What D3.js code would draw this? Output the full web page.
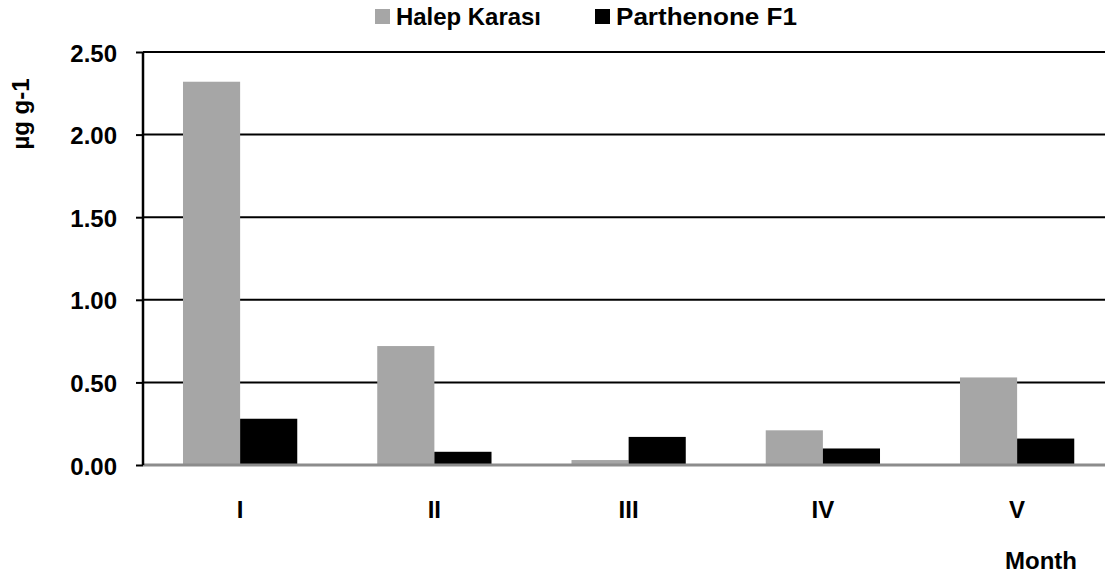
<!DOCTYPE html>
<html>
<head>
<meta charset="utf-8">
<script src="https://cdn.jsdelivr.net/npm/d3@7"></script>
<style>
  body { margin: 0; background: #fff; }
  svg { display: block; font-family: "Liberation Sans", Arial, sans-serif; font-weight: bold; }
</style>
</head>
<body>
<script>
// data
var months = ["I", "II", "III", "IV", "V"];
var seriesNames = ["Halep Karası", "Parthenone F1"];
var halep = [2.32, 0.72, 0.03, 0.21, 0.53];
var parthenone = [0.28, 0.08, 0.17, 0.10, 0.16];
var yTicks = [0, 0.5, 1, 1.5, 2, 2.5];

var colors = ["#a6a6a6", "#000000"];
var width = 1105, height = 573;
var plotLeft = 143, plotTop = 52, plotBottom = 465;
var step = 194.25;
var fs = 24;

var svg = d3.select("body")
    .append("svg")
    .attr("width", width)
    .attr("height", height);

// x scales: months, then series inside each month
var x = d3.scaleBand()
    .domain(months)
    .range([plotLeft, plotLeft + step * months.length])
    .padding(0);

var xSub = d3.scaleBand()
    .domain(seriesNames)
    .range([0, x.bandwidth()])
    .paddingInner(0)
    .paddingOuter(0.7);

var y = d3.scaleLinear()
    .domain([0, 2.5])
    .range([plotBottom, plotTop]);

// gridlines (skip zero, the axis line goes there)
svg.append("g")
    .selectAll("line")
    .data(yTicks.filter(function(d) { return d > 0; }))
    .enter()
    .append("line")
    .attr("x1", plotLeft)
    .attr("x2", width)
    .attr("y1", function(d) { return y(d); })
    .attr("y2", function(d) { return y(d); })
    .attr("stroke", "#000")
    .attr("stroke-width", 2);

// bars
var rows = months.map(function(m, i) {
    return [
        {month: m, name: seriesNames[0], value: halep[i], color: colors[0]},
        {month: m, name: seriesNames[1], value: parthenone[i], color: colors[1]}
    ];
});

var groups = svg.selectAll(".month")
    .data(rows)
    .enter()
    .append("g")
    .attr("class", "month")
    .attr("transform", function(d) {
        return "translate(" + x(d[0].month) + ",0)";
    });

groups.selectAll("rect")
    .data(function(d) { return d; })
    .enter()
    .append("rect")
    .attr("x", function(d) { return xSub(d.name); })
    .attr("width", xSub.bandwidth())
    .attr("y", function(d) { return y(d.value); })
    .attr("height", function(d) { return y(0) - y(d.value); })
    .attr("fill", function(d) { return d.color; });

// x axis line (grey)
svg.append("line")
    .attr("x1", plotLeft)
    .attr("x2", width)
    .attr("y1", y(0))
    .attr("y2", y(0))
    .attr("stroke", "#8c8c8c")
    .attr("stroke-width", 3);

// y axis
var yAxis = d3.axisLeft(y)
    .tickValues(yTicks)
    .tickFormat(d3.format(".2f"))
    .tickSize(7)
    .tickPadding(19);

var yg = svg.append("g")
    .attr("transform", "translate(" + plotLeft + ",0)")
    .call(yAxis);

yg.select(".domain")
    .attr("d", "M0," + y(2.5) + "V" + y(0))
    .attr("stroke", "#000")
    .attr("stroke-width", 2.5);
yg.selectAll(".tick line")
    .attr("stroke", "#000")
    .attr("stroke-width", 2);
yg.selectAll(".tick text")
    .attr("font-size", fs)
    .attr("font-family", "Liberation Sans, Arial, sans-serif")
    .attr("font-weight", "bold")
    .attr("fill", "#000")
    .attr("dy", "0.38em");

// x labels
svg.append("g")
    .selectAll("text")
    .data(months)
    .enter()
    .append("text")
    .attr("x", function(d) { return x(d) + x.bandwidth() / 2; })
    .attr("y", 518)
    .attr("text-anchor", "middle")
    .attr("font-size", fs)
    .text(function(d) { return d; });

// axis titles
svg.append("text")
    .attr("x", 1041)
    .attr("y", 569)
    .attr("text-anchor", "middle")
    .attr("font-size", fs)
    .text("Month");

svg.append("text")
    .attr("transform", "translate(29,114) rotate(-90)")
    .attr("text-anchor", "middle")
    .attr("font-size", fs)
    .text("µg g-1");

// legend
var legendX = [375, 595];
var legendLen = [145, 181];
var legend = svg.selectAll(".legend")
    .data(seriesNames)
    .enter()
    .append("g")
    .attr("class", "legend")
    .attr("transform", function(d, i) {
        return "translate(" + legendX[i] + ",9)";
    });

legend.append("rect")
    .attr("width", 15)
    .attr("height", 15)
    .attr("fill", function(d, i) { return colors[i]; });

legend.append("text")
    .attr("x", 21)
    .attr("y", 16)
    .attr("font-size", fs)
    .attr("textLength", function(d, i) { return legendLen[i]; })
    .attr("lengthAdjust", "spacingAndGlyphs")
    .text(function(d) { return d; });
</script>
</body>
</html>
